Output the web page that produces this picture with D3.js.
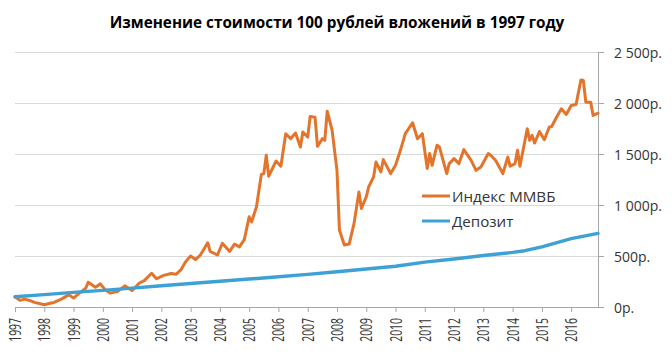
<!DOCTYPE html>
<html><head><meta charset="utf-8">
<script src="https://cdn.jsdelivr.net/npm/d3@7"></script>
<style>body{margin:0;background:#fff}svg{display:block}</style>
</head><body><svg id="c" width="672" height="359"></svg>
<script>
const title = "Изменение стоимости 100 рублей вложений в 1997 году";
const seriesNames = ["Индекс ММВБ", "Депозит"];
const yearLabels = ["1997","1998","1999","2000","2001","2002","2003","2004","2005","2006","2007","2008","2009","2010","2011","2012","2013","2014","2015","2016"];
const yTickValues = [0, 500, 1000, 1500, 2000, 2500];
const yTickLabels = ["0р.", "500р.", "1 000р.", "1 500р.", "2 000р.", "2 500р."];
const firstMonth = "1997-01";
const lastMonth = "2016-12";

const micexDates = ["1997-01","1997-03","1997-05","1997-07","1997-09","1998-01","1998-03","1998-05","1998-08","1998-11",
"1999-01","1999-03","1999-06","1999-07","1999-10","1999-12","2000-02","2000-04","2000-07","2000-10",
"2001-01","2001-04","2001-06","2001-09","2001-11","2002-02","2002-05","2002-07","2002-09","2002-11",
"2003-01","2003-03","2003-05","2003-08","2003-09","2003-12","2004-02","2004-05","2004-07","2004-09","2004-11",
"2005-01","2005-02","2005-04","2005-06","2005-07","2005-08","2005-09","2005-12","2006-02","2006-04","2006-06","2006-08","2006-10","2006-11",
"2007-01","2007-02","2007-04","2007-05","2007-07","2007-08","2007-09","2007-11","2008-01","2008-02","2008-04","2008-06","2008-08","2008-10","2008-11",
"2009-01","2009-02","2009-04","2009-05","2009-07","2009-08","2009-11","2010-01","2010-03","2010-05","2010-08","2010-10","2010-12",
"2011-02","2011-03","2011-04","2011-06","2011-07","2011-10","2011-11","2012-01","2012-03","2012-05","2012-08","2012-10","2012-12",
"2013-03","2013-04","2013-06","2013-09","2013-11","2013-12","2014-02","2014-03","2014-04","2014-07","2014-08","2014-09","2014-10","2014-12",
"2015-02","2015-04","2015-05","2015-07","2015-09","2015-11","2016-01","2016-03","2016-05","2016-06","2016-07","2016-09","2016-10","2016-12"];
const micexValues = [100,65,77,64,45,22,35,45,77,119,
88,129,184,243,194,227,168,136,151,207,
161,235,259,331,277,310,328,321,363,445,
500,465,510,630,545,510,624,545,617,590,660,
884,835,982,1300,1308,1487,1282,1431,1380,1699,1650,1705,1568,1715,
1666,1868,1861,1575,1650,1634,1920,1731,1340,754,608,617,820,1128,966,
1080,1177,1275,1421,1324,1445,1308,1389,1536,1699,1806,1650,1699,
1357,1504,1389,1585,1568,1308,1406,1455,1406,1543,1438,1340,1373,
1504,1487,1438,1308,1470,1380,1406,1536,1380,1748,1634,1683,1607,1721,
1640,1763,1770,1861,1943,1888,1975,1985,2226,2220,2008,2008,1878,1900];

const depositDates = ["1997-01","1998-01","1999-01","2000-01","2001-01","2002-01","2003-01","2004-01","2005-01","2006-01","2007-01","2008-01","2009-01","2010-01","2011-01","2012-01","2013-01","2014-01","2014-06","2015-01","2016-01","2016-12"];
const depositValues = [100,121,143,163,185,208,230,252,274,296,320,345,372,400,440,470,505,535,552,590,670,722];

const colors = {micex: "#E2742C", deposit: "#3DA1D6", grid: "#D9D9D9", axis: "#A6A6A6", text: "#333333"};
const FONT = "'Open Sans', 'Noto Sans', sans-serif";

const monthIndex = s => { const [y, m] = s.split("-").map(Number); return (y - 1997) * 12 + (m - 1); };

const svg = d3.select("#c");
svg.append("rect").attr("width", 672).attr("height", 359).attr("fill", "#fff");

const x = d3.scaleLinear().domain([monthIndex(firstMonth), monthIndex(lastMonth)]).range([15, 598]);
const y = d3.scaleLinear().domain([0, 2500]).range([307, 52]);

// gridlines
svg.append("g").selectAll("line").data(yTickValues.filter(v => v > 0)).join("line")
  .attr("x1", x.range()[0]).attr("x2", x.range()[1])
  .attr("y1", d => Math.round(y(d)) + 0.5).attr("y2", d => Math.round(y(d)) + 0.5)
  .attr("stroke", colors.grid).attr("stroke-width", 1);

// bottom axis
const yearIdx = yearLabels.map(l => monthIndex(l + "-01"));
const gx = svg.append("g").attr("transform", `translate(0,${y(0)})`)
  .call(d3.axisBottom(x).tickValues(yearIdx).tickFormat("").tickSize(5).tickSizeOuter(0));
gx.selectAll("path,line").attr("stroke", colors.axis);
gx.select(".domain").attr("d", `M${x.range()[0]},0.5H${x.range()[1]}`);

svg.append("g").selectAll("text").data(yearLabels).join("text")
  .attr("transform", (d, i) => `translate(${x(yearIdx[i])},318) scale(1.6,1) rotate(-90)`)
  .attr("text-anchor", "end").attr("dy", "0.36em")
  .attr("font-family", FONT).attr("font-size", 10.4).attr("fill", colors.text)
  .text(d => d);

// right axis
const gy = svg.append("g").attr("transform", `translate(${x.range()[1]},0)`)
  .call(d3.axisRight(y).tickValues(yTickValues).tickFormat("").tickSize(6).tickSizeOuter(0));
gy.selectAll("path,line").attr("stroke", colors.axis);

svg.append("g").selectAll("text").data(yTickValues).join("text")
  .attr("x", 614).attr("y", d => y(d))
  .attr("dominant-baseline", "central")
  .attr("font-family", FONT).attr("font-size", 14).attr("fill", colors.text)
  .text((d, i) => yTickLabels[i]);

// lines
const line = d3.line().x(d => x(d[0])).y(d => y(d[1]));
const micex = micexDates.map((d, i) => [monthIndex(d), micexValues[i]]);
const deposit = depositDates.map((d, i) => [monthIndex(d), depositValues[i]]);
svg.append("path").datum(micex).attr("d", line).attr("fill", "none")
  .attr("stroke", colors.micex).attr("stroke-width", 3).attr("stroke-linejoin", "round").attr("stroke-linecap", "round");
svg.append("path").datum(deposit).attr("d", line).attr("fill", "none")
  .attr("stroke", colors.deposit).attr("stroke-width", 3.4).attr("stroke-linejoin", "round").attr("stroke-linecap", "round");

// legend
const legend = svg.append("g");
[colors.micex, colors.deposit].forEach((c, i) => {
  const ly = 196 + i * 25;
  legend.append("line").attr("x1", 422).attr("x2", 450).attr("y1", ly).attr("y2", ly)
    .attr("stroke", c).attr("stroke-width", 3);
  legend.append("text").attr("transform", `translate(452,${ly}) scale(1.08,1)`).attr("dominant-baseline", "central")
    .attr("font-family", FONT).attr("font-size", 14).attr("fill", colors.text).text(seriesNames[i]);
});

// title
svg.append("text").attr("x", 337).attr("y", 22).attr("text-anchor", "middle").attr("dominant-baseline", "central")
  .attr("font-family", FONT).attr("font-weight", "bold").attr("font-size", 15.3).attr("fill", "#000")
  .text(title);
</script></body></html>
